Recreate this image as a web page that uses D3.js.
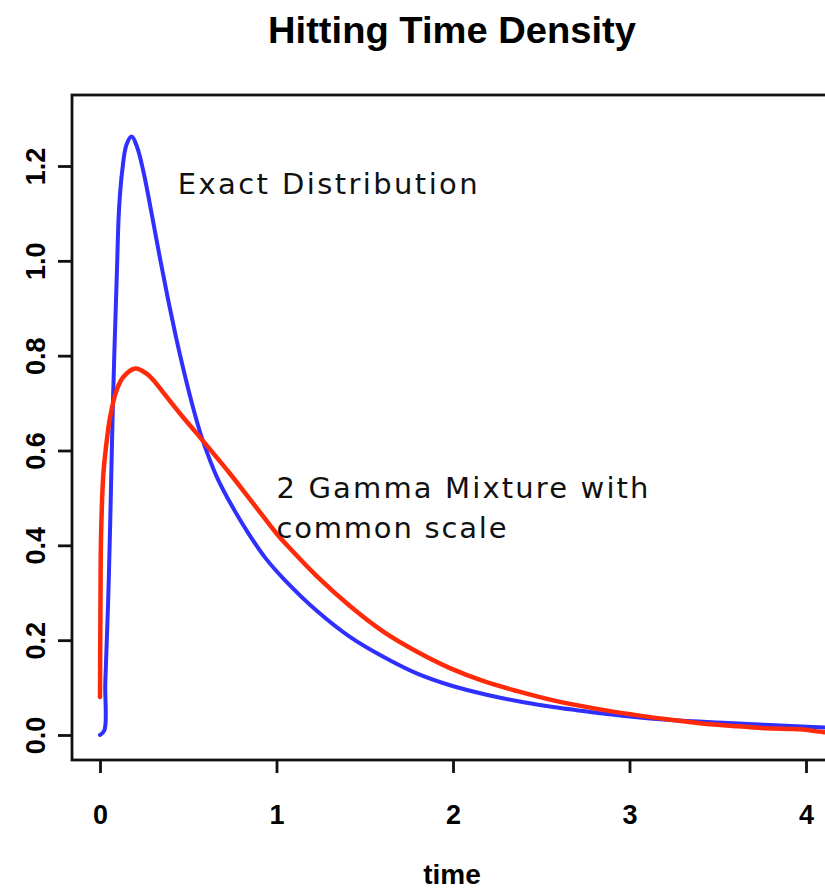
<!DOCTYPE html>
<html>
<head>
<meta charset="utf-8">
<script src="https://cdn.jsdelivr.net/npm/d3@7"></script>
<style>
  html, body { margin: 0; padding: 0; background: #ffffff; }
  svg { display: block; }
</style>
</head>
<body>
<div id="chart"></div>
<script>
// ---- data ----
const titleText = "Hitting Time Density";
const xLabel = "time";
const xTicks = [0, 1, 2, 3, 4];
const yTicks = [0, 0.2, 0.4, 0.6, 0.8, 1.0, 1.2];
const yTickLabels = ["0.0", "0.2", "0.4", "0.6", "0.8", "1.0", "1.2"];

// Exact distribution (blue)
const exactTime = [0, 0.025, 0.03, 0.046, 0.058, 0.074, 0.096, 0.108, 0.126, 0.15, 0.18, 0.21, 0.245, 0.295, 0.34, 0.385, 0.43, 0.47, 0.51, 0.55, 0.585, 0.661, 0.755, 0.85, 0.94, 1.039, 1.228, 1.416, 1.605, 1.794, 1.983, 2.19, 2.4, 2.568, 2.833, 2.946, 3.116, 3.3, 3.53, 3.796, 4.1, 4.2];
const exactDensity = [0, 0.01, 0.11, 0.28, 0.45, 0.71, 0.98, 1.11, 1.19, 1.245, 1.262, 1.24, 1.19, 1.095, 1.005, 0.92, 0.84, 0.775, 0.715, 0.66, 0.618, 0.545, 0.478, 0.42, 0.372, 0.33, 0.262, 0.207, 0.165, 0.130, 0.105, 0.085, 0.069, 0.059, 0.046, 0.041, 0.035, 0.030, 0.026, 0.021, 0.016, 0.015];

// 2 Gamma mixture with common scale (red)
const mixTime = [0, 0.003, 0.006, 0.019, 0.038, 0.057, 0.094, 0.132, 0.2, 0.264, 0.31, 0.359, 0.453, 0.548, 0.642, 0.737, 0.85, 1.0, 1.06, 1.228, 1.416, 1.605, 1.794, 1.983, 2.17, 2.36, 2.568, 2.833, 3.02, 3.21, 3.40, 3.587, 3.777, 3.966, 4.1, 4.2];
const mixDensity = [0.08, 0.30, 0.42, 0.55, 0.62, 0.67, 0.727, 0.755, 0.773, 0.762, 0.745, 0.722, 0.678, 0.636, 0.594, 0.551, 0.497, 0.425, 0.40, 0.335, 0.272, 0.218, 0.176, 0.141, 0.114, 0.093, 0.073, 0.054, 0.043, 0.033, 0.025, 0.019, 0.014, 0.012, 0.006, 0.004];

const annotations = [
  { text: "Exact Distribution", t: 0.44, d: 1.14 },
  { text: "2 Gamma Mixture with", t: 1.0, d: 0.50 },
  { text: "common scale", t: 1.0, d: 0.416 }
];

// ---- layout ----
const W = 825, H = 890;
const box = { left: 72, right: 834, top: 95, bottom: 760 };

const x = d3.scaleLinear().domain([0, 4]).range([100, 806]);
const y = d3.scaleLinear().domain([0, 1.2]).range([735, 166]);

const svg = d3.select("#chart").append("svg")
  .attr("width", W).attr("height", H)
  .attr("viewBox", `0 0 ${W} ${H}`);

svg.append("rect").attr("width", W).attr("height", H).attr("fill", "#ffffff");

// Title
svg.append("text")
  .attr("x", 452).attr("y", 43)
  .attr("text-anchor", "middle")
  .attr("font-family", "'Liberation Sans', Arial, Helvetica, sans-serif")
  .attr("font-weight", "bold")
  .attr("font-size", 37)
  .attr("textLength", 368)
  .attr("lengthAdjust", "spacingAndGlyphs")
  .attr("fill", "#000")
  .text(titleText);

// Curves
svg.append("clipPath").attr("id", "plotclip")
  .append("rect")
  .attr("x", box.left).attr("y", box.top)
  .attr("width", box.right - box.left).attr("height", box.bottom - box.top);

const line = d3.line()
  .x(d => x(d[0]))
  .y(d => y(d[1]))
  .curve(d3.curveCatmullRom.alpha(0.5));

const exactData = exactTime.map((t, i) => [t, exactDensity[i]]);
const mixData = mixTime.map((t, i) => [t, mixDensity[i]]);

const plotG = svg.append("g").attr("clip-path", "url(#plotclip)");

plotG.append("path")
  .datum(exactData)
  .attr("d", line)
  .attr("fill", "none")
  .attr("stroke", "#2f2fff")
  .attr("stroke-width", 4)
  .attr("stroke-linejoin", "round")
  .attr("stroke-linecap", "round");

plotG.append("path")
  .datum(mixData)
  .attr("d", line)
  .attr("fill", "none")
  .attr("stroke", "#ff2a0a")
  .attr("stroke-width", 4.5)
  .attr("stroke-linejoin", "round")
  .attr("stroke-linecap", "round");

// Box
svg.append("rect")
  .attr("x", box.left).attr("y", box.top)
  .attr("width", box.right - box.left).attr("height", box.bottom - box.top)
  .attr("fill", "none")
  .attr("stroke", "#111")
  .attr("stroke-width", 2.8);

// Axes
const axisFont = "'Liberation Sans', Arial, Helvetica, sans-serif";

const xAxis = svg.append("g")
  .attr("transform", `translate(0,${box.bottom})`)
  .call(d3.axisBottom(x).tickValues(xTicks).tickSize(13).tickSizeOuter(0).tickFormat(d3.format("d")));
xAxis.select(".domain").remove();
xAxis.selectAll(".tick line").attr("stroke", "#111").attr("stroke-width", 2.8);
xAxis.selectAll(".tick text")
  .attr("y", 64).attr("dy", 0)
  .attr("font-family", axisFont)
  .attr("font-weight", "bold")
  .attr("font-size", 27)
  .attr("fill", "#000");

const yAxis = svg.append("g")
  .attr("transform", `translate(${box.left},0)`)
  .call(d3.axisLeft(y).tickValues(yTicks).tickSize(14).tickSizeOuter(0)
    .tickFormat((d, i) => yTickLabels[i]));
yAxis.select(".domain").remove();
yAxis.selectAll(".tick line").attr("stroke", "#111").attr("stroke-width", 2.8);
yAxis.selectAll(".tick text")
  .attr("transform", "rotate(-90)")
  .attr("x", 0).attr("y", -27).attr("dy", 0)
  .attr("text-anchor", "middle")
  .attr("font-family", axisFont)
  .attr("font-weight", "bold")
  .attr("font-size", 27)
  .attr("fill", "#000");

// X label
svg.append("text")
  .attr("x", 452).attr("y", 884)
  .attr("text-anchor", "middle")
  .attr("font-family", axisFont)
  .attr("font-weight", "bold")
  .attr("font-size", 28)
  .attr("fill", "#000")
  .text(xLabel);

// Annotations
const annWidths = [300, 372, 230];
svg.selectAll("text.ann")
  .data(annotations)
  .enter().append("text")
  .attr("class", "ann")
  .attr("x", d => x(d.t))
  .attr("y", d => y(d.d))
  .attr("font-family", "'DejaVu Sans', Verdana, sans-serif")
  .attr("font-size", 29)
  .attr("textLength", (d, i) => annWidths[i])
  .attr("lengthAdjust", "spacing")
  .attr("fill", "#111")
  .text(d => d.text);
</script>
</body>
</html>
